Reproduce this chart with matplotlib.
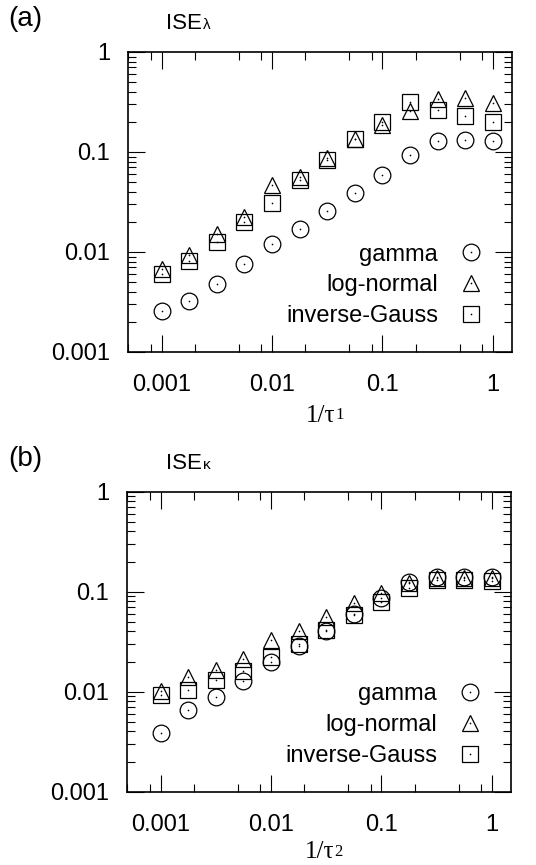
import matplotlib
matplotlib.use("Agg")
import matplotlib.pyplot as plt
from matplotlib.ticker import LogLocator, NullFormatter
from matplotlib.legend_handler import HandlerTuple

plt.rcParams["font.family"] = ["Liberation Sans", "DejaVu Sans"]

# 1/tau values (quarter-decade steps)
inv_tau = [0.001, 0.00178, 0.00316, 0.00562, 0.01, 0.0178, 0.0316,
           0.0562, 0.1, 0.178, 0.316, 0.562, 1.0]

# panel (a): ISE lambda
a_gamma = [0.00255, 0.00321, 0.00475, 0.0075, 0.0119, 0.0169, 0.0255,
           0.039, 0.059, 0.094, 0.130, 0.131, 0.130]
a_lognormal = [0.0068, 0.0093, 0.0153, 0.0224, 0.047, 0.056, 0.088,
               0.136, 0.188, 0.255, 0.336, 0.347, 0.312]
a_invgauss = [0.0060, 0.0082, 0.0125, 0.0198, 0.031, 0.052, 0.083,
              0.136, 0.201, 0.319, 0.261, 0.231, 0.200]

# panel (b): ISE kappa
b_gamma = [0.0039, 0.0066, 0.0089, 0.0128, 0.0200, 0.0286, 0.0405,
           0.0594, 0.0859, 0.126, 0.141, 0.141, 0.141]
b_lognormal = [0.0102, 0.0141, 0.0165, 0.0212, 0.0329, 0.0407, 0.0558,
               0.0765, 0.0964, 0.123, 0.137, 0.137, 0.137]
b_invgauss = [0.0093, 0.0103, 0.0131, 0.0161, 0.0224, 0.0298, 0.0414,
              0.0589, 0.0794, 0.108, 0.130, 0.130, 0.128]

series_labels = ["gamma", "log-normal", "inverse-Gauss"]
markers = ["o", "^", "s"]
x_ticks = [0.001, 0.01, 0.1, 1]
x_ticklabels = ["0.001", "0.01", "0.1", "1"]
y_ticks = [0.001, 0.01, 0.1, 1]
y_ticklabels = ["0.001", "0.01", "0.1", "1"]

FS = 17


def draw_panel(ax, ys):
    handles = []
    for y, m, ms in zip(ys, markers, [12, 12, 11]):
        (h1,) = ax.plot(inv_tau, y, linestyle="None", marker=m, ms=ms,
                        mfc="none", mec="black", mew=0.9, zorder=3)
        (h2,) = ax.plot(inv_tau, y, linestyle="None", marker="o", ms=1.2,
                        mfc="black", mec="black", mew=0, zorder=4)
        handles.append((h1, h2))

    ax.set_xscale("log")
    ax.set_yscale("log")
    ax.set_xlim(0.0005, 1.5)
    ax.set_ylim(0.001, 1)
    ax.set_xticks(x_ticks, x_ticklabels)
    ax.set_yticks(y_ticks, y_ticklabels)
    ax.xaxis.set_minor_locator(LogLocator(base=10, subs=(0.2, 0.5, 0.8), numticks=20))
    ax.yaxis.set_minor_locator(LogLocator(base=10, subs=[i / 10 for i in range(2, 10)], numticks=20))
    ax.xaxis.set_minor_formatter(NullFormatter())
    ax.yaxis.set_minor_formatter(NullFormatter())
    ax.tick_params(which="both", direction="in", top=True, right=True,
                   labelsize=FS, color="black")
    ax.tick_params(which="major", length=12, width=0.8)
    ax.tick_params(which="minor", length=5.5, width=0.8)
    ax.tick_params(axis="x", which="major", pad=16)
    ax.tick_params(axis="y", which="major", pad=13)
    for sp in ax.spines.values():
        sp.set_linewidth(1.2)

    ax.legend(handles, series_labels, handler_map={tuple: HandlerTuple(ndivide=1)},
              loc="center right", bbox_to_anchor=(0.923, 0.222),
              markerfirst=False, frameon=False, fontsize=FS,
              handlelength=1.0, handletextpad=0.89, labelspacing=0.37,
              borderpad=0, borderaxespad=0)


W, H = 536, 865
fig = plt.figure(figsize=(W / 100, H / 100), dpi=100)

ax_a = fig.add_axes([128.3 / W, 1 - 352 / H, 384 / W, 300 / H])
ax_b = fig.add_axes([127.3 / W, 1 - 791.7 / H, 384 / W, 300 / H])

draw_panel(ax_a, [a_gamma, a_lognormal, a_invgauss])
draw_panel(ax_b, [b_gamma, b_lognormal, b_invgauss])

# x labels: "1/tau" plus a small index sitting near the baseline
for ax, sub, ly in [(ax_a, "1", -0.232), (ax_b, "2", -0.222)]:
    lbl = ax.text(0.5, ly, "1/τ", transform=ax.transAxes, family="Liberation Serif",
                  fontsize=18, ha="center", va="baseline")
    ax.annotate(sub, xy=(1, 0), xycoords=lbl, xytext=(0.3, 2.3),
                textcoords="offset points", family="Liberation Serif",
                fontsize=12, ha="left", va="bottom", annotation_clip=False)

# panel tags and titles
for top, tag, greek in [(6, "(a)", "λ"), (446, "(b)", "κ")]:
    fig.text(8 / W, 1 - top / H, tag, fontsize=20, va="top", ha="left")
    t = fig.text(166 / W, 1 - (top + 23) / H, "ISE", fontsize=16, va="baseline", ha="left")
    ax_a.annotate(greek, xy=(1, 0), xycoords=t, xytext=(0.5, 1.5),
                  textcoords="offset points", fontsize=11, va="bottom", ha="left",
                  annotation_clip=False)

fig.savefig("out.png", dpi=100)
